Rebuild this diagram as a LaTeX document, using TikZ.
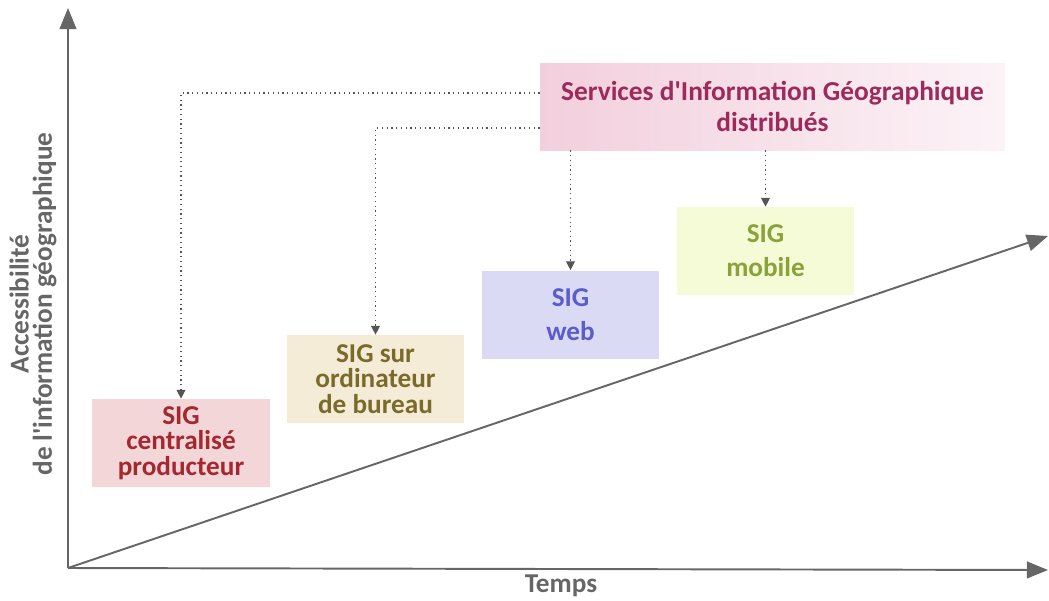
\documentclass[tikz,border=0pt]{standalone}
\usepackage{fontspec}
\setmainfont{Carlito}
\usetikzlibrary{arrows.meta}

\definecolor{axisgray}{HTML}{666666}
\definecolor{linkgray}{HTML}{555555}
\definecolor{centfill}{HTML}{F2D6D8}
\definecolor{centtext}{HTML}{A3282F}
\definecolor{burfill}{HTML}{F4ECD7}
\definecolor{burtext}{HTML}{7A6B2B}
\definecolor{webfill}{HTML}{DADAF4}
\definecolor{webtext}{HTML}{5C5CCB}
\definecolor{mobfill}{HTML}{F5FAD7}
\definecolor{mobtext}{HTML}{8AA23A}
\definecolor{servleft}{HTML}{F2CFDC}
\definecolor{servright}{HTML}{FCF3F7}
\definecolor{servtext}{HTML}{9E2A5B}

\tikzset{
	sigbox/.style={minimum width=3.56cm, minimum height=1.76cm, inner sep=0pt,
		align=center, font=\fontsize{15.5}{14.4}\selectfont\bfseries},
	sigpair/.style={sigbox, font=\fontsize{15.5}{19.5}\selectfont\bfseries},
	axis/.style={axisgray, line width=1.1pt, -{Triangle[length=12pt, width=9.5pt]}},
	link/.style={linkgray, dotted, line width=0.7pt, -{Triangle[length=5pt, width=5pt]}},
	axislabel/.style={axisgray, align=center, font=\fontsize{15.5}{13.2}\selectfont\bfseries}
}

\begin{document}
\begin{tikzpicture}[x=0.02cm, y=-0.02cm]
	\useasboundingbox (0,0) rectangle (1049,600);

	% Axes
	\coordinate (O) at (68, 568);
	\coordinate (ytip) at (68, 8);
	\coordinate (xtip) at (1048, 570);
	\coordinate (dtip) at (1048, 236);

	\draw[axis] (O) -- (ytip);
	\draw[axis] (O) -- (xtip);
	\draw[axis] (O) -- (dtip);

	\node[axislabel, rotate=90] (acc) at (33, 304) {Accessibilité\\de l\textquotesingle information géographique};
	\node[axislabel] (temps) at (561, 586) {Temps};

	% The four kinds of SIG
	\node[sigbox, fill=centfill, text=centtext] (cent) at (181, 443) {SIG\\centralisé\\producteur};
	\node[sigbox, fill=burfill, text=burtext] (bur) at (375.5, 379) {SIG sur\\ordinateur\\de bureau};
	\node[sigpair, fill=webfill, text=webtext] (web) at (570.5, 314.5) {SIG\\web};
	\node[sigpair, fill=mobfill, text=mobtext] (mob) at (765.5, 251) {SIG\\mobile};

	% Distributed services
	\node[minimum width=9.3cm, minimum height=1.74cm, inner sep=0pt, align=center,
		left color=servleft, right color=servright, text=servtext,
		font=\fontsize{15.6}{18}\selectfont\bfseries] (serv) at (772.5, 106.5)
		{Services d\textquotesingle Information Géographique\\distribués};

	% Dotted links from the services
	\draw[link] ([yshift=0.27cm]serv.west) -| (cent.north);
	\draw[link] ([yshift=-0.43cm]serv.west) -| (bur.north);
	\draw[link] (serv.south -| web.north) -- (web.north);
	\draw[link] (serv.south -| mob.north) -- (mob.north);
\end{tikzpicture}
\end{document}
